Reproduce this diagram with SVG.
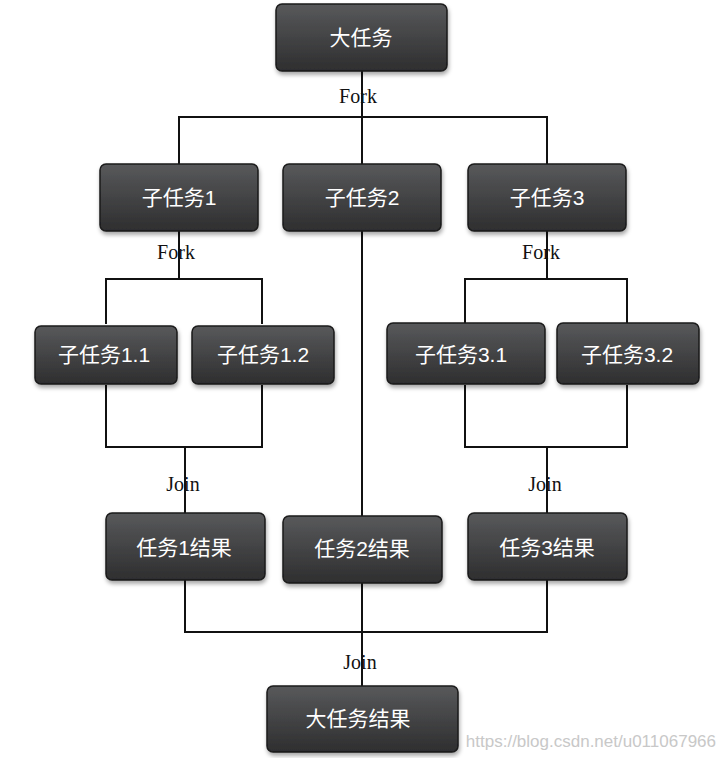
<svg xmlns="http://www.w3.org/2000/svg" width="723" height="758" viewBox="0 0 723 758">
<defs>
<linearGradient id="g" x1="0" y1="0" x2="0" y2="1"><stop offset="0" stop-color="#58595b"/><stop offset="1" stop-color="#2e2e2f"/></linearGradient>
<filter id="sh" x="-10%" y="-10%" width="125%" height="135%"><feDropShadow dx="1" dy="3" stdDeviation="2" flood-color="#000" flood-opacity="0.35"/></filter>
</defs>
<style>
.b{fill:url(#g);stroke:#1a1a1a;stroke-width:1.5;filter:url(#sh)}
.t{fill:#fff;font-family:"Liberation Sans","Noto Sans CJK SC",sans-serif;font-size:21px;text-anchor:middle;dominant-baseline:central}
.l{fill:#111;font-family:"Liberation Serif",serif;font-size:20px;text-anchor:middle}
.c{fill:none;stroke:#111;stroke-width:2}
</style>
<rect width="723" height="758" fill="#fff"/>
<g id="connectors">
<path class="c" d="M362 71V164M179 164V117H547V164"/>
<path class="c" d="M179 231V279M106 324V279H262V324"/>
<path class="c" d="M547 231V279M465 324V279H627V324"/>
<path class="c" d="M362 231V516"/>
<path class="c" d="M106 385V447H262V385M185 447V513"/>
<path class="c" d="M465 385V447H627V385M547 447V513"/>
<path class="c" d="M185 580V632H547V580M362 583V686"/>
</g>
<g id="labels">
<text class="l" x="358" y="103">Fork</text>
<text class="l" x="176" y="259">Fork</text>
<text class="l" x="541" y="259">Fork</text>
<text class="l" x="183" y="491">Join</text>
<text class="l" x="545" y="491">Join</text>
<text class="l" x="360" y="669">Join</text>
</g>
<g id="n0"><rect class="b" x="276" y="4" width="171" height="67" rx="6"/><text class="t" x="361" y="37">大任务</text></g>
<g id="n1"><rect class="b" x="100" y="164" width="158" height="67" rx="6"/><text class="t" x="179" y="197">子任务1</text></g>
<g id="n2"><rect class="b" x="283" y="164" width="158" height="67" rx="6"/><text class="t" x="362" y="197">子任务2</text></g>
<g id="n3"><rect class="b" x="468" y="164" width="158" height="67" rx="6"/><text class="t" x="547" y="197">子任务3</text></g>
<g id="n11"><rect class="b" x="35" y="326" width="142" height="58" rx="6"/><text class="t" x="104" y="354">子任务1.1</text></g>
<g id="n12"><rect class="b" x="192" y="326" width="142" height="58" rx="6"/><text class="t" x="263" y="354">子任务1.2</text></g>
<g id="n31"><rect class="b" x="387" y="323" width="158" height="61" rx="6"/><text class="t" x="461" y="354">子任务3.1</text></g>
<g id="n32"><rect class="b" x="557" y="323" width="142" height="61" rx="6"/><text class="t" x="627" y="354">子任务3.2</text></g>
<g id="r1"><rect class="b" x="106" y="513" width="159" height="67" rx="6"/><text class="t" x="184" y="547">任务1结果</text></g>
<g id="r2"><rect class="b" x="283" y="516" width="159" height="67" rx="6"/><text class="t" x="362" y="548">任务2结果</text></g>
<g id="r3"><rect class="b" x="468" y="513" width="159" height="67" rx="6"/><text class="t" x="547" y="547">任务3结果</text></g>
<g id="rf"><rect class="b" x="267" y="686" width="191" height="66" rx="6"/><text class="t" x="358" y="718">大任务结果</text></g>
<text x="716" y="747" fill="#c8c8c8" font-family="'Liberation Sans',sans-serif" font-size="17" text-anchor="end">https://blog.csdn.net/u011067966</text>
</svg>
